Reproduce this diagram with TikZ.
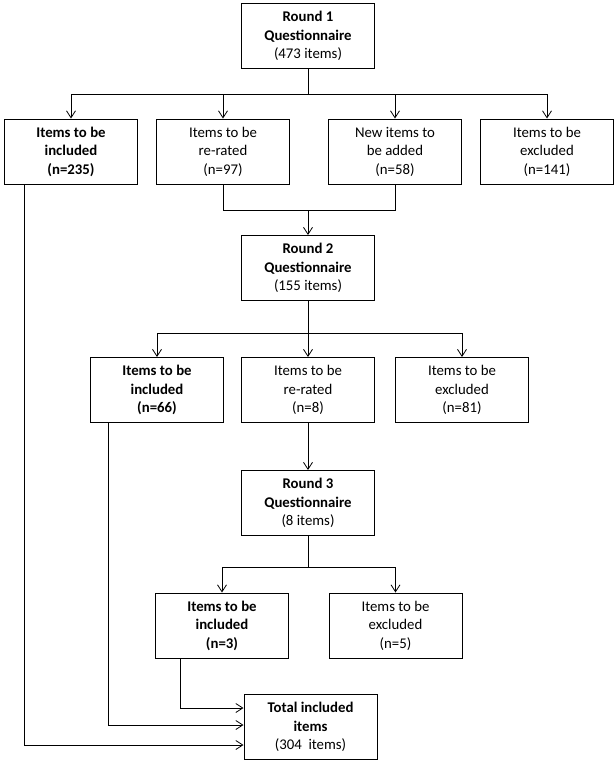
\documentclass[tikz,border=0pt]{standalone}
\usepackage{fontspec}
\setmainfont{Carlito}
\usetikzlibrary{arrows.meta}
\begin{document}
\begin{tikzpicture}[x=1pt,y=-1pt,
  box/.style={draw, line width=1pt, minimum width=133pt, minimum height=65pt,
    align=center, inner sep=0pt, font=\fontsize{14.8}{18.5}\selectfont},
  conn/.style={line width=0.8pt},
  arr/.style={conn, -{Straight Barb[length=7pt,width=9pt]}}]
\useasboundingbox (0,0) rectangle (614,764);
% Round 1
\node[box] (r1) at (308,36) {\textbf{Round 1}\\\textbf{Questionnaire}\\(473 items)};
\node[box] (A) at (71,151.5) {\textbf{Items to be}\\\textbf{included}\\\textbf{(n=235)}};
\node[box] (B) at (223,151.5) {Items to be\\re-rated\\(n=97)};
\node[box] (C) at (395,151.5) {New items to\\be added\\(n=58)};
\node[box] (D) at (547,151.5) {Items to be\\excluded\\(n=141)};
% Round 2
\node[box] (r2) at (308,268) {\textbf{Round 2}\\\textbf{Questionnaire}\\(155 items)};
\node[box] (E) at (157,390) {\textbf{Items to be}\\\textbf{included}\\\textbf{(n=66)}};
\node[box] (F) at (308,390) {Items to be\\re-rated\\(n=8)};
\node[box] (G) at (462,390) {Items to be\\excluded\\(n=81)};
% Round 3
\node[box] (r3) at (308,503) {\textbf{Round 3}\\\textbf{Questionnaire}\\(8 items)};
\node[box] (H) at (222,625.5) {\textbf{Items to be}\\\textbf{included}\\\textbf{(n=3)}};
\node[box] (I) at (395.5,625.5) {Items to be\\excluded\\(n=5)};
% Total
\node[box] (T) at (310.5,727) {\textbf{Total included}\\\textbf{items}\\(304~~items)};
% connectors round 1
\coordinate (h1) at (308,94);
\draw[conn] (r1.south) -- (h1);
\draw[conn] (h1 -| A) -- (h1 -| D);
\foreach \n in {A,B,C,D} \draw[arr] (h1 -| \n) -- (\n.north);
\coordinate (j1) at (308,210);
\draw[conn] (B.south) -- (j1 -| B) -- (j1 -| C) -- (C.south);
\draw[arr] (j1) -- (r2.north);
% connectors round 2
\coordinate (h2) at (308,333);
\draw[conn] (r2.south) -- (h2);
\draw[conn] (h2 -| E) -- (h2 -| G);
\foreach \n in {E,F,G} \draw[arr] (h2 -| \n) -- (\n.north);
\draw[arr] (F.south) -- (r3.north);
% connectors round 3
\coordinate (h3) at (308,567);
\draw[conn] (r3.south) -- (h3);
\draw[conn] (h3 -| H) -- (h3 -| I);
\foreach \n in {H,I} \draw[arr] (h3 -| \n) -- (\n.north);
% to total
\coordinate (c1) at (180,708);
\coordinate (c2) at (108,725);
\coordinate (c3) at (24,745);
\draw[arr] (H.south -| c1) -- (c1) -- (c1 -| T.west);
\draw[arr] (E.south -| c2) -- (c2) -- (c2 -| T.west);
\draw[arr] (A.south -| c3) -- (c3) -- (c3 -| T.west);
\end{tikzpicture}
\end{document}
